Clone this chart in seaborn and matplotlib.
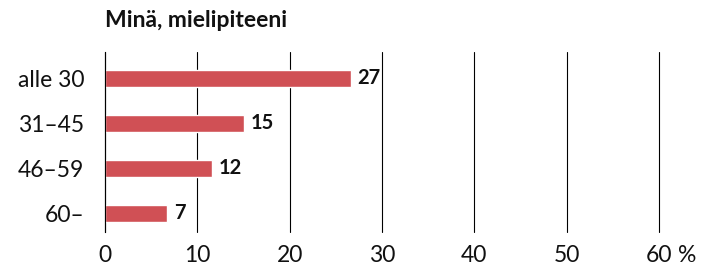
import matplotlib
matplotlib.use("Agg")
import matplotlib.pyplot as plt
import seaborn as sns
import pandas as pd

groups = ["alle 30", "31\u201345", "46\u201359", "60\u2013"]
# bar lengths as measured in the picture; labels are the rounded figures
values = [26.6, 15.0, 11.6, 6.7]
labels = ["27", "15", "12", "7"]
xticks = [0, 10, 20, 30, 40, 50, 60]
title = "Minä, mielipiteeni"

sns.set_theme(style="white")
plt.rcParams["font.family"] = ["Lato", "DejaVu Sans"]

df = pd.DataFrame({"group": groups, "value": values})

fig = plt.figure(figsize=(7.02, 2.70), dpi=100)
ax = fig.add_axes([105 / 702, 1 - 232 / 270, (659 - 105) / 702, 180 / 270])

sns.barplot(data=df, x="value", y="group", orient="h", color="#d05055",
            saturation=1, width=0.38, ax=ax)
ax.set_ylim(3.42, -0.58)
ax.set_xlim(0, 60)

ax.set_axisbelow(True)
ax.set_xticks(xticks)
ax.set_xticklabels([str(t) for t in xticks])
ax.grid(axis="x", color="black", linewidth=0.8)
ax.grid(axis="y", visible=False)
for line in ax.get_xgridlines():
    line.set_clip_on(False)
for s in ["top", "right", "bottom"]:
    ax.spines[s].set_visible(False)
ax.spines["left"].set_color("black")
ax.spines["left"].set_linewidth(0.8)

ax.tick_params(axis="both", length=0, labelsize=16.5, colors="#111111")
ax.tick_params(axis="y", pad=15)
ax.tick_params(axis="x", pad=9)
ax.set_xlabel("")
ax.set_ylabel("")

# percent sign after the last tick label
ax.annotate("%", xy=(60, 0), xycoords=("data", "axes fraction"),
            xytext=(14, -9), textcoords="offset points",
            ha="left", va="top", fontsize=16.5, color="#111111")

ax.bar_label(ax.containers[0], labels=labels, padding=5,
             fontsize=14.5, fontweight="bold", color="#111111")

fig.text(105 / 702, 1 - 21 / 270, title, ha="left", va="center",
         fontsize=16.5, fontweight="bold", color="#111111")

fig.savefig("out.png", dpi=100)
